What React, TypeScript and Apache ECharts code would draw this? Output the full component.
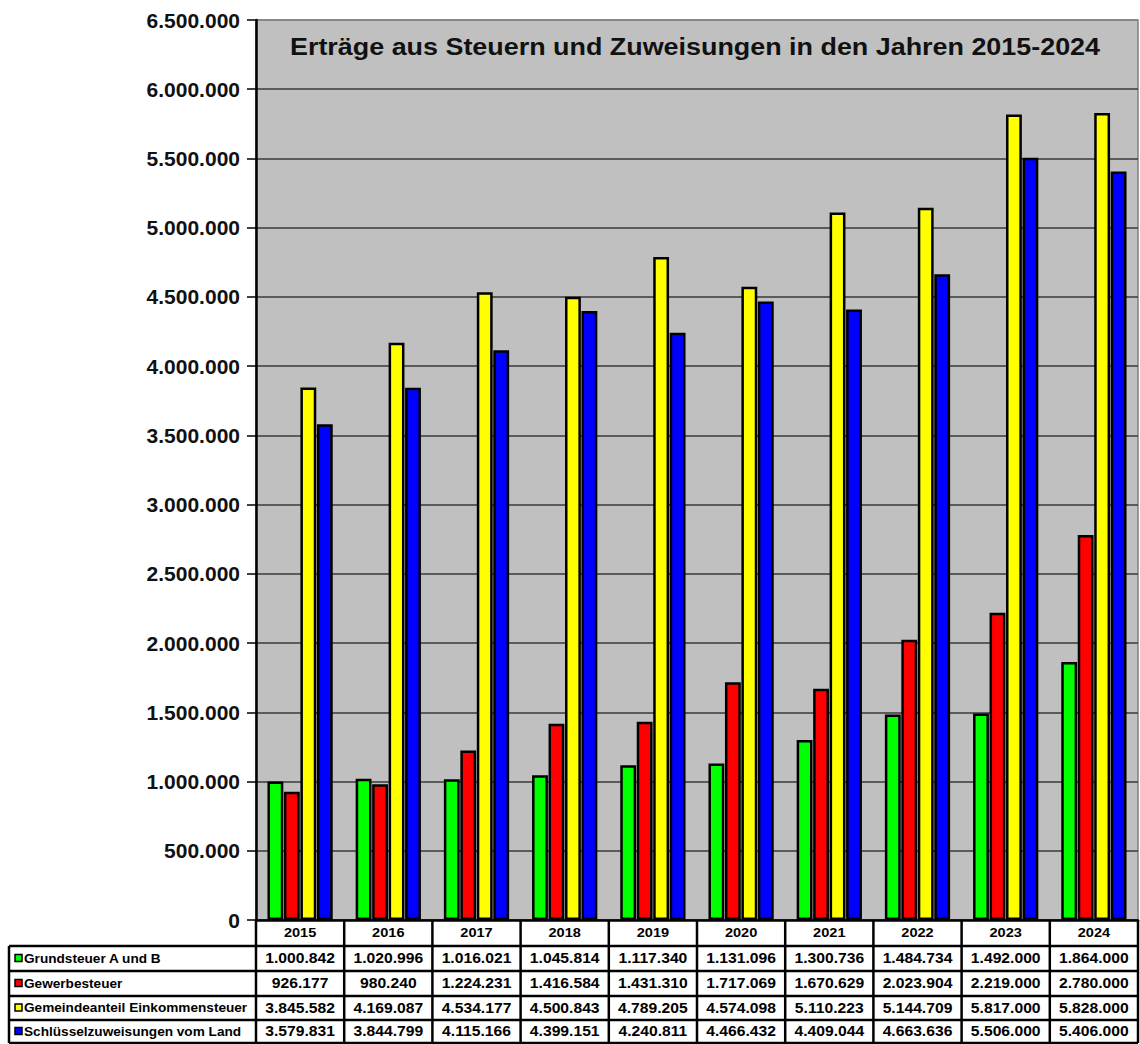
import React, { useEffect, useRef } from "react";
import * as echarts from "echarts";

const years = ["2015", "2016", "2017", "2018", "2019", "2020", "2021", "2022", "2023", "2024"];
const seriesNames = [
  "Grundsteuer A und B",
  "Gewerbesteuer",
  "Gemeindeanteil Einkommensteuer",
  "Schlüsselzuweisungen vom Land",
];
const seriesColors = ["#00ff00", "#ff0000", "#ffff00", "#0000ff"];
const grundsteuer = [1000842, 1020996, 1016021, 1045814, 1117340, 1131096, 1300736, 1484734, 1492000, 1864000];
const gewerbesteuer = [926177, 980240, 1224231, 1416584, 1431310, 1717069, 1670629, 2023904, 2219000, 2780000];
const einkommensteuer = [3845582, 4169087, 4534177, 4500843, 4789205, 4574098, 5110223, 5144709, 5817000, 5828000];
const schluessel = [3579831, 3844799, 4115166, 4399151, 4240811, 4466432, 4409044, 4663636, 5506000, 5406000];
const seriesData = [grundsteuer, gewerbesteuer, einkommensteuer, schluessel];
const titleText = "Erträge aus Steuern und Zuweisungen in den Jahren 2015-2024";

const fmt = (v: number) => String(Math.round(v)).replace(/\B(?=(\d{3})+(?!\d))/g, ".");

const W = 1140;
const H = 1044;
const plotLeft = 256;
const plotRight = 1138;
const plotTop = 20;
const plotBottom = 920;
const rowLines = [946, 971, 996, 1020, 1043];

export default function App() {
  const ref = useRef<HTMLDivElement>(null);
  useEffect(() => {
    if (!ref.current) return;
    const chart = echarts.init(ref.current, null, { renderer: "svg" });
    const n = years.length;
    const colW = (plotRight - plotLeft) / n;
    const font = "'Liberation Sans', Arial, sans-serif";
    const lineStyle = { stroke: "#000", lineWidth: 2.5 };
    const g: any[] = [];
    // title
    g.push({
      type: "text",
      x: (plotLeft + plotRight) / 2 - 2,
      y: 47,
      scaleX: 1.17,
      style: { text: titleText, fill: "#111", font: `bold 23px ${font}`, textAlign: "center", textVerticalAlign: "middle" },
      z: 11,
    });
    // vertical column lines
    for (let i = 0; i <= n; i++) {
      const x = plotLeft + i * colW;
      g.push({ type: "line", shape: { x1: x, y1: plotBottom, x2: x, y2: rowLines[rowLines.length - 1] }, style: lineStyle, z: 10 });
    }
    // left border
    g.push({ type: "line", shape: { x1: 9, y1: rowLines[0], x2: 9, y2: rowLines[rowLines.length - 1] }, style: lineStyle, z: 10 });
    // horizontal lines
    rowLines.forEach((y) => {
      g.push({ type: "line", shape: { x1: 9, y1: y, x2: plotRight, y2: y }, style: lineStyle, z: 10 });
    });
    // year header
    years.forEach((yr, i) => {
      g.push({
        type: "text",
        x: plotLeft + (i + 0.5) * colW,
        y: (plotBottom + rowLines[0]) / 2,
        scaleX: 1.12,
        style: { text: yr, fill: "#000", font: `bold 13px ${font}`, textAlign: "center", textVerticalAlign: "middle" },
        z: 11,
      });
    });
    // rows
    seriesNames.forEach((name, r) => {
      const yMid = (rowLines[r] + rowLines[r + 1]) / 2;
      g.push({ type: "rect", shape: { x: 15, y: yMid - 4, width: 7, height: 7 }, style: { fill: seriesColors[r], stroke: "#000", lineWidth: 1.5 }, z: 11 });
      g.push({
        type: "text",
        x: 24,
        y: yMid,
        scaleX: 1.09,
        style: { text: name, fill: "#000", font: `bold 12.5px ${font}`, textAlign: "left", textVerticalAlign: "middle" },
        z: 11,
      });
      seriesData[r].forEach((v, i) => {
        g.push({
          type: "text",
          x: plotLeft + (i + 0.5) * colW,
          y: yMid,
          scaleX: 1.12,
          style: { text: fmt(v), fill: "#000", font: `bold 14px ${font}`, textAlign: "center", textVerticalAlign: "middle" },
          z: 11,
        });
      });
    });

    const splitColors: string[] = [];
    for (let i = 0; i <= 13; i++) splitColors.push(i === 13 ? "#808080" : "#3a3a3a");

    chart.setOption({
      animation: false,
      backgroundColor: "#ffffff",
      textStyle: { fontFamily: font },
      grid: {
        left: plotLeft,
        right: W - plotRight,
        top: plotTop,
        bottom: H - plotBottom,
        show: true,
        backgroundColor: "#c0c0c0",
        borderColor: "#808080",
        borderWidth: 1.5,
      },
      xAxis: {
        type: "category",
        data: years,
        axisLabel: { show: false },
        axisTick: { show: false },
        axisLine: { show: true, lineStyle: { color: "#000", width: 2.5 } },
        splitLine: { show: false },
      },
      yAxis: {
        type: "value",
        min: 0,
        max: 6500000,
        interval: 500000,
        axisLabel: {
          formatter: (v: number) => fmt(v),
          fontSize: 21,
          fontWeight: "bold",
          color: "#111",
          margin: 16,
          fontFamily: font,
        },
        axisLine: { show: true, lineStyle: { color: "#000", width: 2.5 } },
        axisTick: { show: true, length: 9, lineStyle: { color: "#000", width: 1.5 } },
        splitLine: { show: true, lineStyle: { color: splitColors, width: 1.5 } },
      },
      series: seriesNames.map((name, r) => ({
        name,
        type: "bar",
        data: seriesData[r],
        barGap: "4%",
        barCategoryGap: "26%",
        itemStyle: { color: seriesColors[r], borderColor: "#000", borderWidth: 2.5 },
      })),
      graphic: g,
    });
    return () => chart.dispose();
  }, []);
  return <div ref={ref} style={{ position: "absolute", left: 0, top: 0, width: W, height: H }} />;
}
